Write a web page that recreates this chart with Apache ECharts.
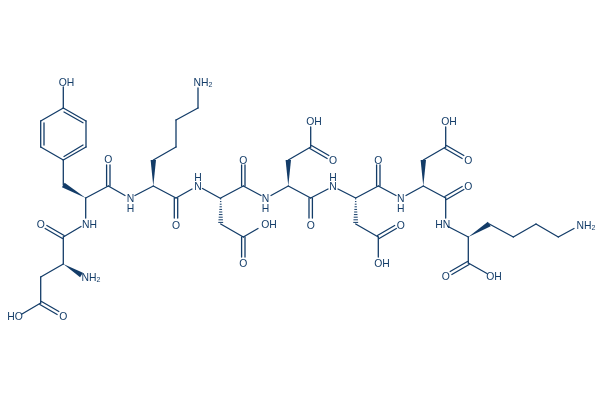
<!DOCTYPE html>
<html><head><meta charset="utf-8">
<style>html,body{margin:0;padding:0;background:#fff;overflow:hidden}#c{width:600px;height:400px}</style>
<script src="https://cdn.jsdelivr.net/npm/echarts@6/dist/echarts.min.js"></script>
</head><body><div id="c"></div>
<script>
const INK = '#133c68';
// each bond: x1,y1,x2,y2
const singleBonds = [
 [63.3,87,63.3,108],[63.3,108,86,121],[86,147,63.3,160],[63.3,160,40.7,147],[40.7,121,63.3,108],[40.7,147,40.7,121],[86,147,86,121],
 [63.3,160,63.3,185],
 [85.7,198,108.3,186],[108.3,186,125,195.5],[135,195.5,153.3,186],
 [85.7,198,85.7,218],[81,226.5,63.3,237],[63.3,237,63.3,264],[63.3,264,40.7,277],[40.7,277,40.7,303],[40.7,303,22,314],
 [153.3,186,176,198],[176,198,192,189],[153.3,160,176,147],[176,147,176,120],[176,120,198,108],[198,108,198,88],
 [202.5,188.5,220.7,198.5],[220.7,198,243.3,186],[243.3,186,261,195.5],[271,195.5,288.3,186],
 [220.7,224,243.3,237],[243.3,237,258,228.5],
 [288.3,186,310.7,198],[310.7,198,328,189],[288.3,160,310.7,147],[310.7,147,310.7,127],
 [338,189,355.7,198],[355.7,198,378.3,186],[378.3,186,396,195.5],[406,195.5,423.3,186],
 [355.7,224,378.3,237],[378.3,237,378.3,257],
 [423.3,186,445.7,198],[445.7,198,445.7,218],[423.3,160,445.7,147],[445.7,147,445.7,127],
 [448,226.5,468.3,237],[468.3,237,468.3,263],[468.3,263,487,273.5],
 [489.3,224,513.3,237],[513.3,237,536,224],[536,224,558.3,237],[558.3,237,574,228.5]
];
const doubleBonds = [
 [108.3,186,108.3,165],[63.3,237,46,227],[40.7,303,58,313],
 [176,198,176,218],[243.3,186,243.3,165],[243.3,237,243.3,257],
 [310.7,147,328,157],[310.7,198,310.7,218],[378.3,186,378.3,165],[378.3,237,395.5,227],
 [445.7,147,463,157],[445.7,198,463,188],[468.3,263,451,273]
];
// inner lines of the aromatic ring
const ringInnerBonds = [[64,112,83,122.7],[44,123,44,145],[83,145,64,156.5]];
const wedgeBonds = [
 [85.7,198,63.3,185],[153.3,186,153.3,160],[288.3,186,288.3,160],[423.3,186,423.3,160],
 [63.3,264,81.5,275],[468.3,237,489.3,224]
];
const hashBonds = [[220.7,198,220.7,224],[355.7,198,355.7,224]];
// label text, x, y
const atomLabels = [
 ['OH',66.5,83],['O',108.3,160.5],['N',130.5,198.7],['H',130.5,208.7],['NH',89.5,225.2],['O',40.7,225.5],
 ['NH2',91,278.2],['HO',15,317.2],['O',63.3,317.2],['NH2',203,83.2],['O',176,225.7],['N',198,187.2],['H',198,178.2],
 ['OH',269,225.2],['O',243.3,264.2],['O',243.3,160.7],['N',265.5,198.9],['H',265.5,208.7],['OH',314,122.2],['O',333,160.7],
 ['O',310.7,225.7],['N',333,187.2],['H',333,178.2],['O',378.3,160.7],['O',400.7,226.2],['OH',382,264.2],['N',400.7,199.2],
 ['H',400.7,208.7],['OH',449,122.2],['O',468.3,160.7],['O',468.3,187.2],['HN',442.7,225.2],['NH2',586,225.9],['O',445.7,277.2],['OH',494,277.2]
];
function seg(p1,p2,w){return {type:'line',shape:{x1:p1[0],y1:p1[1],x2:p2[0],y2:p2[1]},style:{stroke:INK,lineWidth:w||1.3,lineCap:'round'}};}
function renderSingle(p,api){const a=api.coord([api.value(0),api.value(1)]),b=api.coord([api.value(2),api.value(3)]);return seg(a,b);}
function renderDouble(p,api){
 const a=api.coord([api.value(0),api.value(1)]),b=api.coord([api.value(2),api.value(3)]);
 const dx=b[0]-a[0],dy=b[1]-a[1],l=Math.hypot(dx,dy),nx=-dy/l*1.7,ny=dx/l*1.7;
 return {type:'group',children:[seg([a[0]+nx,a[1]+ny],[b[0]+nx,b[1]+ny]),seg([a[0]-nx,a[1]-ny],[b[0]-nx,b[1]-ny])]};
}
function renderWedge(p,api){
 const a=api.coord([api.value(0),api.value(1)]),b=api.coord([api.value(2),api.value(3)]);
 const dx=b[0]-a[0],dy=b[1]-a[1],l=Math.hypot(dx,dy),nx=-dy/l*2.7,ny=dx/l*2.7;
 return {type:'polygon',shape:{points:[a,[b[0]+nx,b[1]+ny],[b[0]-nx,b[1]-ny]]},style:{fill:INK}};
}
function renderHash(p,api){
 const a=api.coord([api.value(0),api.value(1)]),b=api.coord([api.value(2),api.value(3)]);
 const dx=b[0]-a[0],dy=b[1]-a[1],l=Math.hypot(dx,dy),ux=dx/l,uy=dy/l,kids=[];
 for(let d=1;d<l;d+=2.6){const h=0.4+2.2*d/l,cx=a[0]+ux*d,cy=a[1]+uy*d;
  kids.push({type:'line',shape:{x1:cx-uy*h,y1:cy+ux*h,x2:cx+uy*h,y2:cy-ux*h},style:{stroke:INK,lineWidth:1}});}
 return {type:'group',children:kids};
}
const enc={x:[0,2],y:[1,3]};
function custom(name,data,renderItem){return {type:'custom',name,data,renderItem,encode:enc,silent:true,animation:false,clip:false};}
const chart=echarts.init(document.getElementById('c'),null,{renderer:'canvas',devicePixelRatio:1});
chart.setOption({
 animation:false,backgroundColor:'#fff',
 grid:{left:0,right:0,top:0,bottom:0},
 xAxis:{type:'value',min:0,max:600,show:false},
 yAxis:{type:'value',min:0,max:400,inverse:true,show:false},
 series:[
  custom('single',singleBonds,renderSingle),
  custom('ring',ringInnerBonds,renderSingle),
  custom('double',doubleBonds,renderDouble),
  custom('wedge',wedgeBonds,renderWedge),
  custom('hash',hashBonds,renderHash),
  {type:'scatter',name:'atoms',symbolSize:0,silent:true,animation:false,itemStyle:{opacity:1},
   data:atomLabels.map(a=>({name:a[0],value:[a[1],a[2]]})),
   label:{show:true,position:'inside',color:INK,opacity:1,fontFamily:'Liberation Sans',fontSize:10.4,
    formatter:p=>p.name==='NH2'?'{m|NH}{s|2}':'{m|'+p.name+'}',
    rich:{m:{fontFamily:'Liberation Sans',fontSize:10.4,color:INK},s:{fontFamily:'Liberation Sans',fontSize:7,color:INK,verticalAlign:'bottom',padding:[4,0,0,0]}}},
   labelLayout:{hideOverlap:false}}
 ]
});
</script></body></html>
